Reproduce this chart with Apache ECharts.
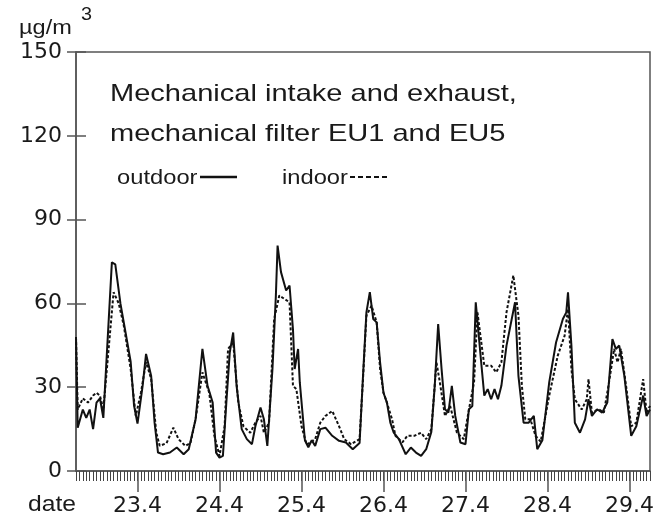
<!DOCTYPE html>
<html>
<head>
<meta charset="utf-8">
<script src="https://cdn.jsdelivr.net/npm/echarts@6/dist/echarts.min.js"></script>
<style>
  html, body { margin: 0; padding: 0; background: #fff; }
  #chart { width: 658px; height: 524px; }
</style>
</head>
<body>
<div id="chart"></div>
<script>
// hours counted from 22.4 00:00
var outdoorHours = [6, 6.5, 8, 9, 10, 11, 12, 13, 14, 16.5, 17.5, 19, 20.5, 22, 23, 24, 25.5, 26.5, 28, 29,
  30, 31.5, 33.5, 35.5, 37.5, 39, 41, 43, 44.5, 46, 47, 48, 49, 50, 51, 52, 53, 54.5, 56, 57.5,
  58.5, 60, 61, 62, 63.5, 64.5, 65, 66, 67.5, 68.5, 69.5, 70, 71, 71.5, 73, 74, 75, 76, 77.5, 79,
  81, 83, 85, 87, 89, 90, 91, 92, 93, 94, 95, 96, 97, 98, 99, 100.5, 102.5, 104, 105.5, 107,
  108.5, 110, 111, 112, 113, 114, 115, 116, 117, 118.5, 120, 121, 122, 123, 124.5, 125.5, 126.5, 127.5, 128.5, 129.5,
  130.5, 132, 134.5, 135.5, 137, 138.5, 140, 141, 142.5, 144.5, 146.5, 148.5, 149.5, 150, 151, 152, 153.5, 155, 156, 157,
  158.5, 160, 161.5, 163, 164, 165, 166.5, 168.5, 170, 172, 173, 174];
var outdoorValues = [48, 15.5, 22, 19, 22, 15, 24.5, 26, 19, 74.7, 74, 60, 49.6, 39.1, 23.3, 17, 30.5, 41.9, 34, 17.3,
  6.6, 6, 6.6, 8.4, 6, 7.8, 18.5, 43.7, 30.5, 24.5, 6.6, 4.8, 5.4, 24.5, 42.4, 49.6, 30.5, 15, 11.4, 9.6,
  16, 22.7, 18.5, 9, 36.5, 62.8, 80.7, 71.2, 64.6, 66.4, 50.8, 36.5, 43.7, 31.7, 11, 8.5, 11, 9, 15, 15.5,
  12.6, 10.8, 10.2, 7.8, 10, 34, 56.8, 64, 54.4, 53.2, 38.9, 28, 24.5, 17.3, 13.7, 11.4, 6, 8.4, 6.6, 5.4,
  7.8, 14, 30.5, 52.6, 36.5, 22.1, 20.9, 30.5, 19.7, 10.2, 9.6, 22.1, 23.3, 60.4, 40.1, 27, 29.3, 25.7, 29.3, 25.7,
  30.5, 44.9, 60.4, 34, 17.3, 17.3, 19.7, 7.8, 11, 31.7, 46, 54.4, 56.8, 64, 44.9, 17.3, 13.7, 18.5, 25.7, 19.7,
  22.1, 20.9, 24.5, 47.2, 43.7, 44.9, 34, 12.6, 16, 27, 19.7, 22];

var indoorHours = [6, 6.5, 8, 9.5, 11, 12, 13, 14, 17, 18.5, 20, 22, 23.5, 25, 26.5, 28, 29.5, 30.5, 32.5, 34.5,
  36, 38, 39.5, 41, 43, 45, 46.5, 48, 49.5, 50.5, 52, 53.5, 55, 57, 58.5, 60, 61, 62.5, 64, 65.5,
  67, 68.5, 69.5, 70.5, 72, 73.5, 75, 76, 77.5, 79, 81, 83, 84.5, 86.5, 89, 90, 91, 92.5, 94, 95,
  96, 97, 98.5, 99.5, 101.5, 103, 105, 107, 108.5, 110, 111.5, 112.5, 114, 115.5, 117.5, 119.5, 121, 122.5, 123.5, 124.5,
  125.5, 127.5, 129, 130.5, 132, 134, 135.5, 136.5, 137.5, 139, 140.5, 142, 144.5, 147, 149, 150, 151, 152, 154, 155.5,
  156, 157, 159, 160.5, 162, 163.5, 164.5, 165.5, 167, 168.5, 170, 172, 173, 174];
var indoorValues = [48, 22, 26, 24.5, 27, 28, 27, 22, 64, 60, 52, 36.5, 19.7, 28, 39, 33, 13.7, 9, 10, 15.5,
  11.4, 9, 10, 18.5, 35.3, 28, 12.6, 5.4, 16, 43.7, 46, 24.5, 16, 13.7, 17.3, 19.7, 13.7, 17.3, 54.4, 62.8,
  61.6, 60.4, 30.5, 29.3, 16, 9.5, 10.5, 11.4, 17.3, 19.7, 21.5, 16, 11.4, 9.6, 11.4, 32.9, 55.6, 59.2, 53.2, 36.5,
  28, 24.5, 18.5, 12.6, 10.2, 12.6, 12.6, 13.7, 11.4, 15, 38.9, 31.7, 19.7, 23.3, 13.7, 11.4, 22, 31.7, 56.8, 47.2,
  37.7, 37.7, 35.3, 38.9, 56.8, 70, 55.6, 30.5, 18.5, 18.5, 12.6, 10.5, 27, 41.3, 48.4, 58, 36.5, 25.7, 22, 25.7,
  32.9, 20.9, 22.1, 20.9, 31.7, 43.7, 38.9, 43.7, 30.5, 16, 17.3, 32.9, 20.9, 23.3];

var dayHours = [24, 48, 72, 96, 120, 144, 168];
var dayLabels = ['23.4', '24.4', '25.4', '26.4', '27.4', '28.4', '29.4'];

var hourTicks = [];
for (var h = 6; h <= 174; h++) {
  hourTicks.push(h);
}

function pairs(xs, ys) {
  var out = [];
  for (var i = 0; i < xs.length; i++) {
    out.push([xs[i], ys[i]]);
  }
  return out;
}

var textColor = '#1a1a1a';
var axisColor = '#555';
var fontFamily = '"Liberation Sans", Arial, sans-serif';

// text placed by its top-left corner, stretched a little wider like the scan
function label(str, x, y, size, stretch) {
  return {
    type: 'text',
    x: x,
    y: y,
    scaleX: stretch,
    style: { text: str, x: 0, y: 0, verticalAlign: 'top', font: size + 'px ' + fontFamily, fill: textColor }
  };
}

var chart = echarts.init(document.getElementById('chart'));

var option = {
  animation: false,
  backgroundColor: '#fff',
  grid: {
    left: 76,
    right: 8,
    top: 52,
    bottom: 53,
    show: true,
    borderColor: axisColor,
    borderWidth: 1.5
  },
  xAxis: [{
    type: 'value',
    min: 6,
    max: 174,
    axisLine: { lineStyle: { color: axisColor, width: 1.5 } },
    axisTick: { customValues: hourTicks, length: 10, lineStyle: { color: '#444', width: 1 } },
    axisLabel: { show: false },
    splitLine: { show: false }
  }, {
    type: 'value',
    min: 6,
    max: 174,
    position: 'bottom',
    axisLine: { show: false },
    axisTick: { customValues: dayHours, length: 21, lineStyle: { color: axisColor, width: 1.5 } },
    axisLabel: {
      customValues: dayHours,
      margin: 24,
      fontSize: 22,
      fontFamily: '"DejaVu Sans", sans-serif',
      color: textColor,
      formatter: function (v) {
        return dayLabels[dayHours.indexOf(v)];
      }
    },
    splitLine: { show: false }
  }],
  yAxis: [{
    type: 'value',
    min: 0,
    max: 150,
    interval: 30,
    axisLine: { show: true, lineStyle: { color: axisColor, width: 1.5 } },
    axisTick: { show: true, length: 9, lineStyle: { color: axisColor, width: 1.5 } },
    axisLabel: { margin: 14, fontSize: 22, fontFamily: '"DejaVu Sans", sans-serif', color: textColor },
    splitLine: { show: false }
  }, {
    type: 'value',
    min: 0,
    max: 150,
    interval: 30,
    position: 'left',
    axisLine: { show: false },
    axisTick: { show: true, inside: true, length: 10, lineStyle: { color: axisColor, width: 1.5 } },
    axisLabel: { show: false },
    splitLine: { show: false }
  }],
  graphic: [
    label('µg/m', 19, 18, 21, 1.12),
    label('3', 81, 6, 18, 1.1),
    label('date', 28, 494, 22, 1.12),
    label('Mechanical intake and exhaust,', 110, 82, 24, 1.21),
    label('mechanical filter EU1 and EU5', 110, 122, 24, 1.21),
    label('outdoor', 117, 168, 21, 1.13),
    { type: 'line', shape: { x1: 200, y1: 177, x2: 237, y2: 177 }, style: { stroke: '#111', lineWidth: 2.5 } },
    label('indoor', 282, 168, 21, 1.13),
    { type: 'line', shape: { x1: 350, y1: 177, x2: 390, y2: 177 }, style: { stroke: '#111', lineWidth: 1.8, lineDash: [5, 3] } }
  ],
  series: [{
    name: 'outdoor',
    type: 'line',
    xAxisIndex: 0,
    yAxisIndex: 0,
    data: pairs(outdoorHours, outdoorValues),
    showSymbol: false,
    lineStyle: { color: '#111', width: 2 }
  }, {
    name: 'indoor',
    type: 'line',
    xAxisIndex: 0,
    yAxisIndex: 0,
    data: pairs(indoorHours, indoorValues),
    showSymbol: false,
    lineStyle: { color: '#111', width: 2, type: [3, 2] }
  }]
};

chart.setOption(option);
</script>
</body>
</html>
